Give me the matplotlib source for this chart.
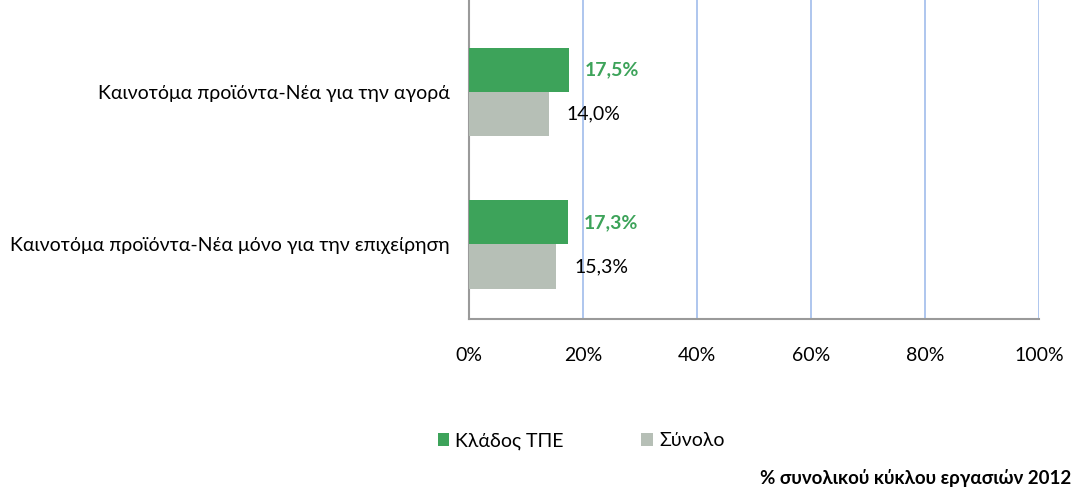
import numpy as np
import matplotlib
matplotlib.use("Agg")
import matplotlib.pyplot as plt

plt.rcParams['font.family'] = ['Lato', 'DejaVu Sans']

categories = ["Καινοτόμα προϊόντα-Νέα μόνο για την επιχείρηση",
              "Καινοτόμα προϊόντα-Νέα για την αγορά"]
ict = [17.3, 17.5]
total = [15.3, 14.0]
series_names = ["Κλάδος ΤΠΕ", "Σύνολο"]
xticks = [0, 20, 40, 60, 80, 100]
note = "% συνολικού κύκλου εργασιών 2012"

GREEN = '#3DA35A'
GRAY = '#B6BFB6'
FS = 14

fig = plt.figure(figsize=(10.81, 4.92), dpi=100)
ax = fig.add_axes([469/1081, 1-319/492, 570/1081, 319/492])

y = np.arange(len(categories))
h = 0.29
ax.barh(y + h/2, ict, height=h, color=GREEN, label=series_names[0], zorder=3)
ax.barh(y - h/2, total, height=h, color=GRAY, label=series_names[1], zorder=3)

def fmt(v):
    return f"{v:.1f}%".replace('.', ',')

for yi, v in zip(y, ict):
    ax.annotate(fmt(v), (v, yi + h/2), xytext=(16, 0), textcoords='offset pixels',
                va='center', ha='left', color=GREEN, fontweight='bold', fontsize=FS)
for yi, v in zip(y, total):
    ax.annotate(fmt(v), (v, yi - h/2), xytext=(18, 0), textcoords='offset pixels',
                va='center', ha='left', color='black', fontsize=FS)

ax.set_xlim(0, 100)
ax.set_ylim(-0.49, 1.605)
ax.set_xticks(xticks)
ax.set_xticklabels([f"{t}%" for t in xticks], fontsize=FS)
ax.set_yticks(y)
ax.set_yticklabels(categories, fontsize=FS)
ax.tick_params(axis='both', length=0)
ax.tick_params(axis='x', pad=20)
ax.tick_params(axis='y', pad=14)
ax.grid(axis='x', color='#AEC6EE', linewidth=1.4, zorder=0)
for s in ['top', 'right']:
    ax.spines[s].set_visible(False)
for s in ['left', 'bottom']:
    ax.spines[s].set_color('#9A9A9A')
    ax.spines[s].set_linewidth(1.5)

fig.legend(loc='center', bbox_to_anchor=(581/1081, 1-441/492), ncol=2, frameon=False,
           fontsize=FS, handlelength=0.6, handleheight=0.6, handletextpad=0.3,
           columnspacing=4.0)
fig.text(1071/1081, 1-478/492, note, ha='right', va='center', fontweight='bold', fontsize=13.5)

fig.savefig("out.png", dpi=100)
